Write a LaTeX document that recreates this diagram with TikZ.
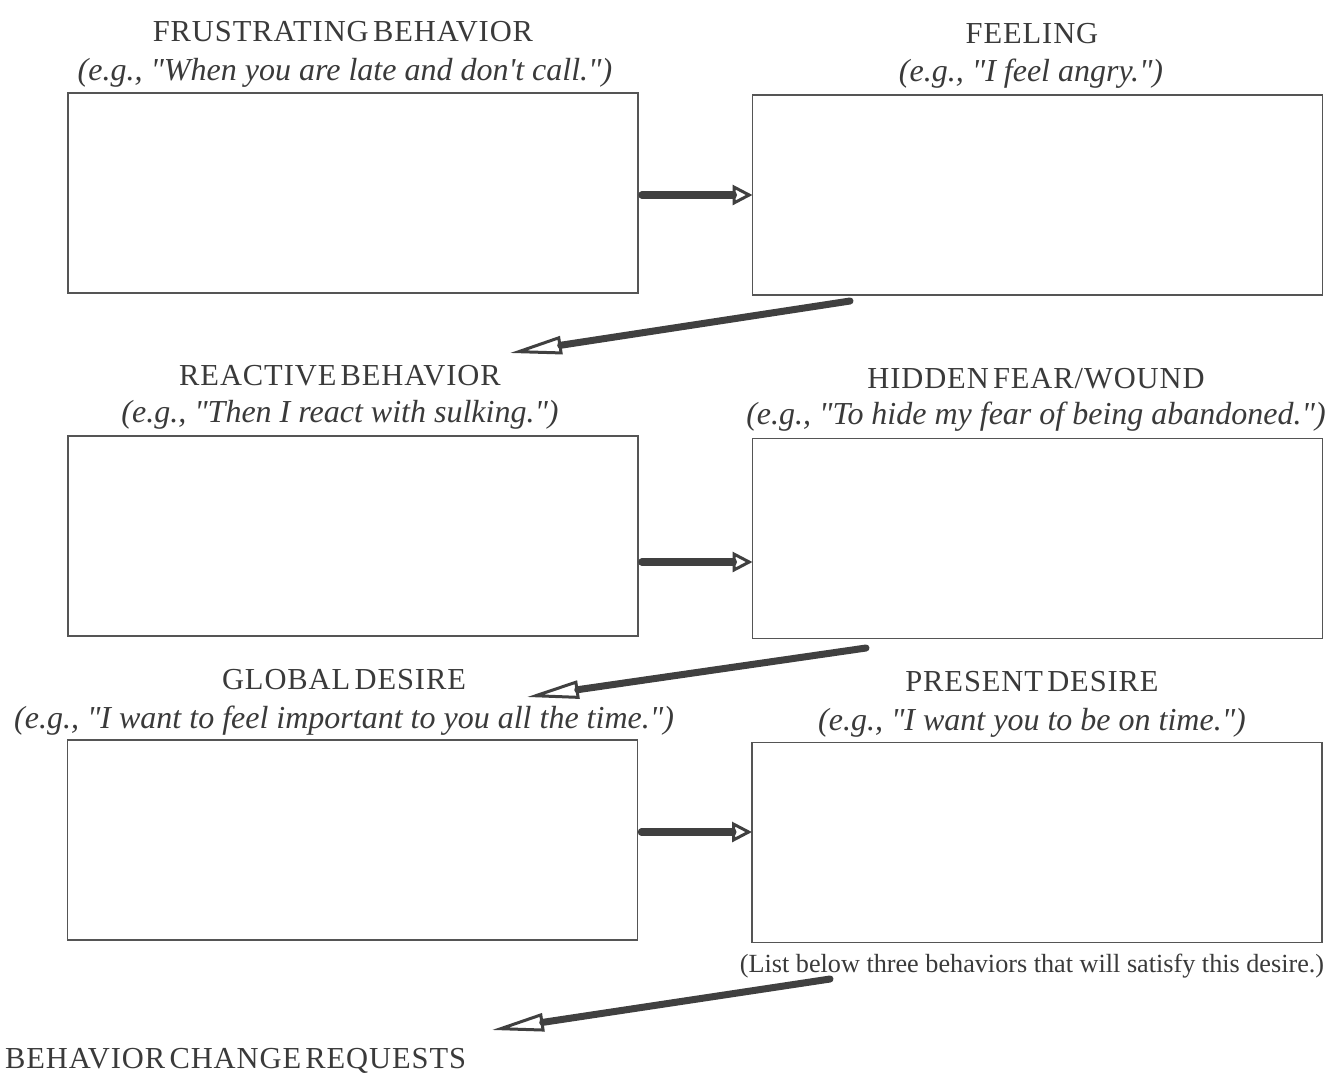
\documentclass[tikz,border=0pt]{standalone}
\usepackage{fontspec}
\setmainfont{Liberation Serif}[Ligatures=TeXOff]
\newfontfamily\capsfont{Liberation Serif}[Ligatures=TeXOff, LetterSpace=3]
\usetikzlibrary{arrows.meta}
\definecolor{ink}{HTML}{3A3A3A}
\definecolor{frame}{HTML}{555555}
\definecolor{arrowc}{HTML}{404040}
\newcommand{\tsp}{\hspace{0.14em}}
\tikzset{
  box/.style={draw=frame, line width=1.4pt, minimum width=570pt, minimum height=200pt,
              inner sep=0pt, outer sep=0pt},
  title/.style={text=ink, font=\capsfont\fontsize{30.5}{33}\selectfont, anchor=base, inner sep=0pt},
  example/.style={text=ink, font=\fontsize{32}{35}\selectfont\itshape, anchor=base, inner sep=0pt},
  note/.style={text=ink, font=\fontsize{26.2}{30}\selectfont, anchor=base, inner sep=0pt},
  flow/.style={draw=arrowc, line width=7.5pt, line cap=round,
               -{Triangle[open, length=20pt, width=20pt, line width=3pt]}},
  jump/.style={draw=arrowc, line width=7pt, line cap=round,
               -{Triangle[open, length=52pt, width=18pt, line width=3pt]}}
}
\begin{document}
\begin{tikzpicture}[x=1pt, y=-1pt]
  % canvas
  \fill[white] (0,0) rectangle (1329,1072);
  \useasboundingbox (0,0) rectangle (1329,1072);

  % the six worksheet boxes
  \node[box] (b1) at (353,193) {};
  \node[box] (b2) at (1037.5,195) {};
  \node[box] (b3) at (353,536) {};
  \node[box] (b4) at (1037.5,538.5) {};
  \node[box] (b5) at (352.5,840) {};
  \node[box] (b6) at (1037,842.5) {};

  % headings and examples
  \node[title] (t1) at (343,41) {FRUSTRATING\tsp BEHAVIOR};
  \node[example] (e1) at (345,80) {(e.g., "When you are late and don't call.")};
  \node[title] (t2) at (1032,43) {FEELING};
  \node[example] (e2) at (1031,81) {(e.g., "I feel angry.")};
  \node[title] (t3) at (340,385) {REACTIVE\tsp BEHAVIOR};
  \node[example] (e3) at (340,422) {(e.g., "Then I react with sulking.")};
  \node[title] (t4) at (1036,388) {HIDDEN\tsp FEAR/WOUND};
  \node[example] (e4) at (1036,424) {(e.g., "To hide my fear of being abandoned.")};
  \node[title] (t5) at (344,689) {GLOBAL\tsp DESIRE};
  \node[example] (e5) at (344,728) {(e.g., "I want to feel important to you all the time.")};
  \node[title] (t6) at (1032,691) {PRESENT\tsp DESIRE};
  \node[example] (e6) at (1032,730) {(e.g., "I want you to be on time.")};
  \node[note] (n6) at (1032,972) {(List below three behaviors that will satisfy this desire.)};
  \node[title, anchor=base west] (t7) at (5,1068) {BEHAVIOR\tsp CHANGE\tsp REQUESTS};

  % horizontal links between paired boxes
  \draw[flow, shorten <=4pt] ([yshift=-2pt]b1.east) -- ([yshift=-2pt]b1.east -| b2.west);
  \draw[flow, shorten <=4pt] ([yshift=-26pt]b3.east) -- ([yshift=-26pt]b3.east -| b4.west);
  \draw[flow, shorten <=4pt] ([yshift=8pt]b5.east) -- ([yshift=8pt]b5.east -| b6.west);

  % diagonal links to the next row
  \coordinate (d1s) at (850,301);
  \coordinate (d1e) at (510,353);
  \coordinate (d2s) at (866,648);
  \coordinate (d2e) at (527,697);
  \coordinate (d3s) at (830,979);
  \coordinate (d3e) at (492,1030);
  \draw[jump] (d1s) -- (d1e);
  \draw[jump] (d2s) -- (d2e);
  \draw[jump] (d3s) -- (d3e);
\end{tikzpicture}
\end{document}
